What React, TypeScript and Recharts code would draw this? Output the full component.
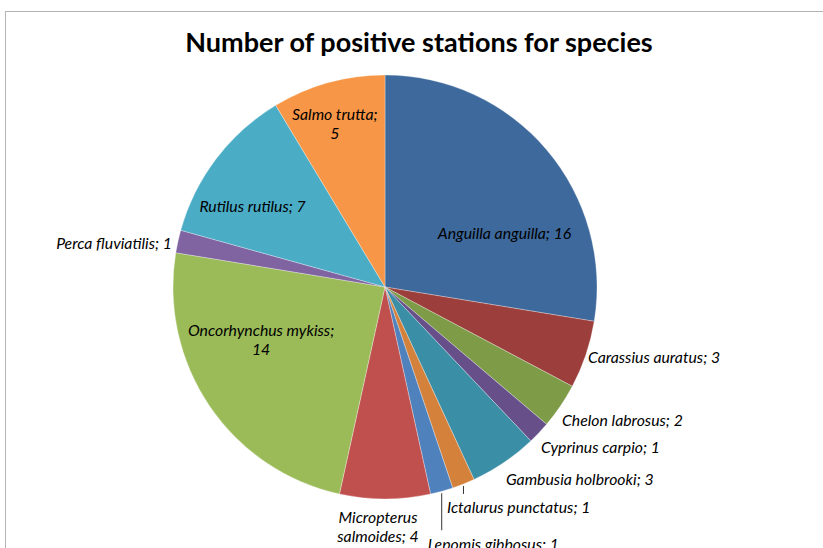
import React from 'react';
import { PieChart, Pie, Cell } from 'recharts';

const species = [
  'Anguilla anguilla',
  'Carassius auratus',
  'Chelon labrosus',
  'Cyprinus carpio',
  'Gambusia holbrooki',
  'Ictalurus punctatus',
  'Lepomis gibbosus',
  'Micropterus salmoides',
  'Oncorhynchus mykiss',
  'Perca fluviatilis',
  'Rutilus rutilus',
  'Salmo trutta',
];
const stations = [16, 3, 2, 1, 3, 1, 1, 4, 14, 1, 7, 5];
const sliceColors = [
  '#3E699C', '#9C3F3C', '#7E9B48', '#67508A', '#3A8EA5', '#D4813C',
  '#4F81BD', '#C0504D', '#9BBB59', '#8064A2', '#4BACC6', '#F79646',
];

const data = species.map((name, i) => ({ name, value: stations[i] }));

type Layout = {
  kind: 'in' | 'out';
  dAngle?: number;
  frac?: number;
  dx?: number;
  dy?: number;
  anchor?: 'start' | 'middle' | 'end';
  wrap?: 'value' | 'word';
  leaderTo?: number;
};

const labelLayout: Record<string, Layout> = {
  'Anguilla anguilla': { kind: 'in', dAngle: 15.7, frac: 0.62 },
  'Carassius auratus': { kind: 'out', dx: 2, dy: 2, anchor: 'start' },
  'Chelon labrosus': { kind: 'out', dx: 1.5, dy: 14, anchor: 'start' },
  'Cyprinus carpio': { kind: 'out', dx: 2, dy: 14, anchor: 'start' },
  'Gambusia holbrooki': { kind: 'out', dx: 2, dy: 16.5, anchor: 'start' },
  'Ictalurus punctatus': { kind: 'out', dx: -16.5, dy: 23, anchor: 'start', leaderTo: 10 },
  'Lepomis gibbosus': { kind: 'out', dx: -14, dy: 52, anchor: 'start', leaderTo: 39 },
  'Micropterus salmoides': { kind: 'out', dx: -7, dy: 27, anchor: 'middle', wrap: 'word' },
  'Oncorhynchus mykiss': { kind: 'in', dAngle: 11.3, frac: 0.634, wrap: 'value' },
  'Perca fluviatilis': { kind: 'out', dx: -6, dy: 1, anchor: 'end' },
  'Rutilus rutilus': { kind: 'in', dAngle: -5.7, frac: 0.733 },
  'Salmo trutta': { kind: 'in', dAngle: -1.5, frac: 0.809, wrap: 'value' },
};

const LABEL_FONT = 'Lato, "Open Sans", sans-serif';
const TITLE_FONT = 'Lato, "Open Sans", sans-serif';
const LINE_H = 18.5;

const renderLabel = (props: any) => {
  const { cx, cy, midAngle, outerRadius, name, value } = props;
  const lay = labelLayout[name];
  if (!lay) return null;
  const theta = ((90 - midAngle + (lay.dAngle ?? 0)) * Math.PI) / 180;
  const pt = (r: number) => [cx + r * Math.sin(theta), cy - r * Math.cos(theta)];
  let lines: string[];
  if (lay.wrap === 'value') lines = [`${name};`, `${value}`];
  else if (lay.wrap === 'word') {
    const i = name.indexOf(' ');
    lines = [name.slice(0, i), `${name.slice(i + 1)}; ${value}`];
  } else lines = [`${name}; ${value}`];

  let x: number;
  let y: number;
  let anchor: 'start' | 'middle' | 'end' = 'middle';
  let leader: React.ReactNode = null;
  if (lay.kind === 'in') {
    [x, y] = pt((lay.frac ?? 0.6) * outerRadius);
  } else {
    const [bx, by] = pt(outerRadius);
    x = bx + (lay.dx ?? 0);
    y = by + (lay.dy ?? 0);
    anchor = lay.anchor ?? 'start';
    if (lay.leaderTo) {
      leader = (
        <line x1={bx} y1={by + 2} x2={bx} y2={by + lay.leaderTo} stroke="#000" strokeWidth={0.8} />
      );
    }
  }
  const top = y - ((lines.length - 1) * LINE_H) / 2;
  return (
    <g>
      {leader}
      {lines.map((t, i) => (
        <text
          key={i}
          x={x}
          y={top + i * LINE_H}
          textAnchor={anchor}
          dominantBaseline="central"
          fontFamily={LABEL_FONT}
          fontStyle="italic"
          fontSize={15.8}
          fill="#000"
        >
          {t}
        </text>
      ))}
    </g>
  );
};

export default function App() {
  return (
    <div style={{ position: 'absolute', left: 0, top: 0, width: 823, height: 548, overflow: 'hidden', background: '#fff' }}>
      <div
        style={{
          position: 'absolute',
          left: 5,
          top: 11,
          width: 840,
          height: 560,
          border: '1px solid #B4B4B4',
          boxSizing: 'border-box',
        }}
      />
      <div
        style={{
          position: 'absolute',
          left: 0,
          top: 24,
          width: 838,
          textAlign: 'center',
          fontFamily: TITLE_FONT,
          fontWeight: 700,
          fontSize: 27,
          lineHeight: '36px',
          color: '#000',
        }}
      >
        Number of positive stations for species
      </div>
      <div style={{ position: 'absolute', left: 0, top: 0 }}>
        <PieChart width={823} height={548} margin={{ top: 0, right: 0, bottom: 0, left: 0 }}>
          <Pie
            data={data}
            dataKey="value"
            nameKey="name"
            cx={385}
            cy={287}
            outerRadius={212}
            startAngle={90}
            endAngle={-270}
            stroke="#ffffff"
            strokeWidth={0.5}
            strokeOpacity={0.6}
            label={renderLabel}
            labelLine={false}
            isAnimationActive={false}
          >
            {data.map((d, i) => (
              <Cell key={d.name} fill={sliceColors[i]} />
            ))}
          </Pie>
        </PieChart>
      </div>
    </div>
  );
}
